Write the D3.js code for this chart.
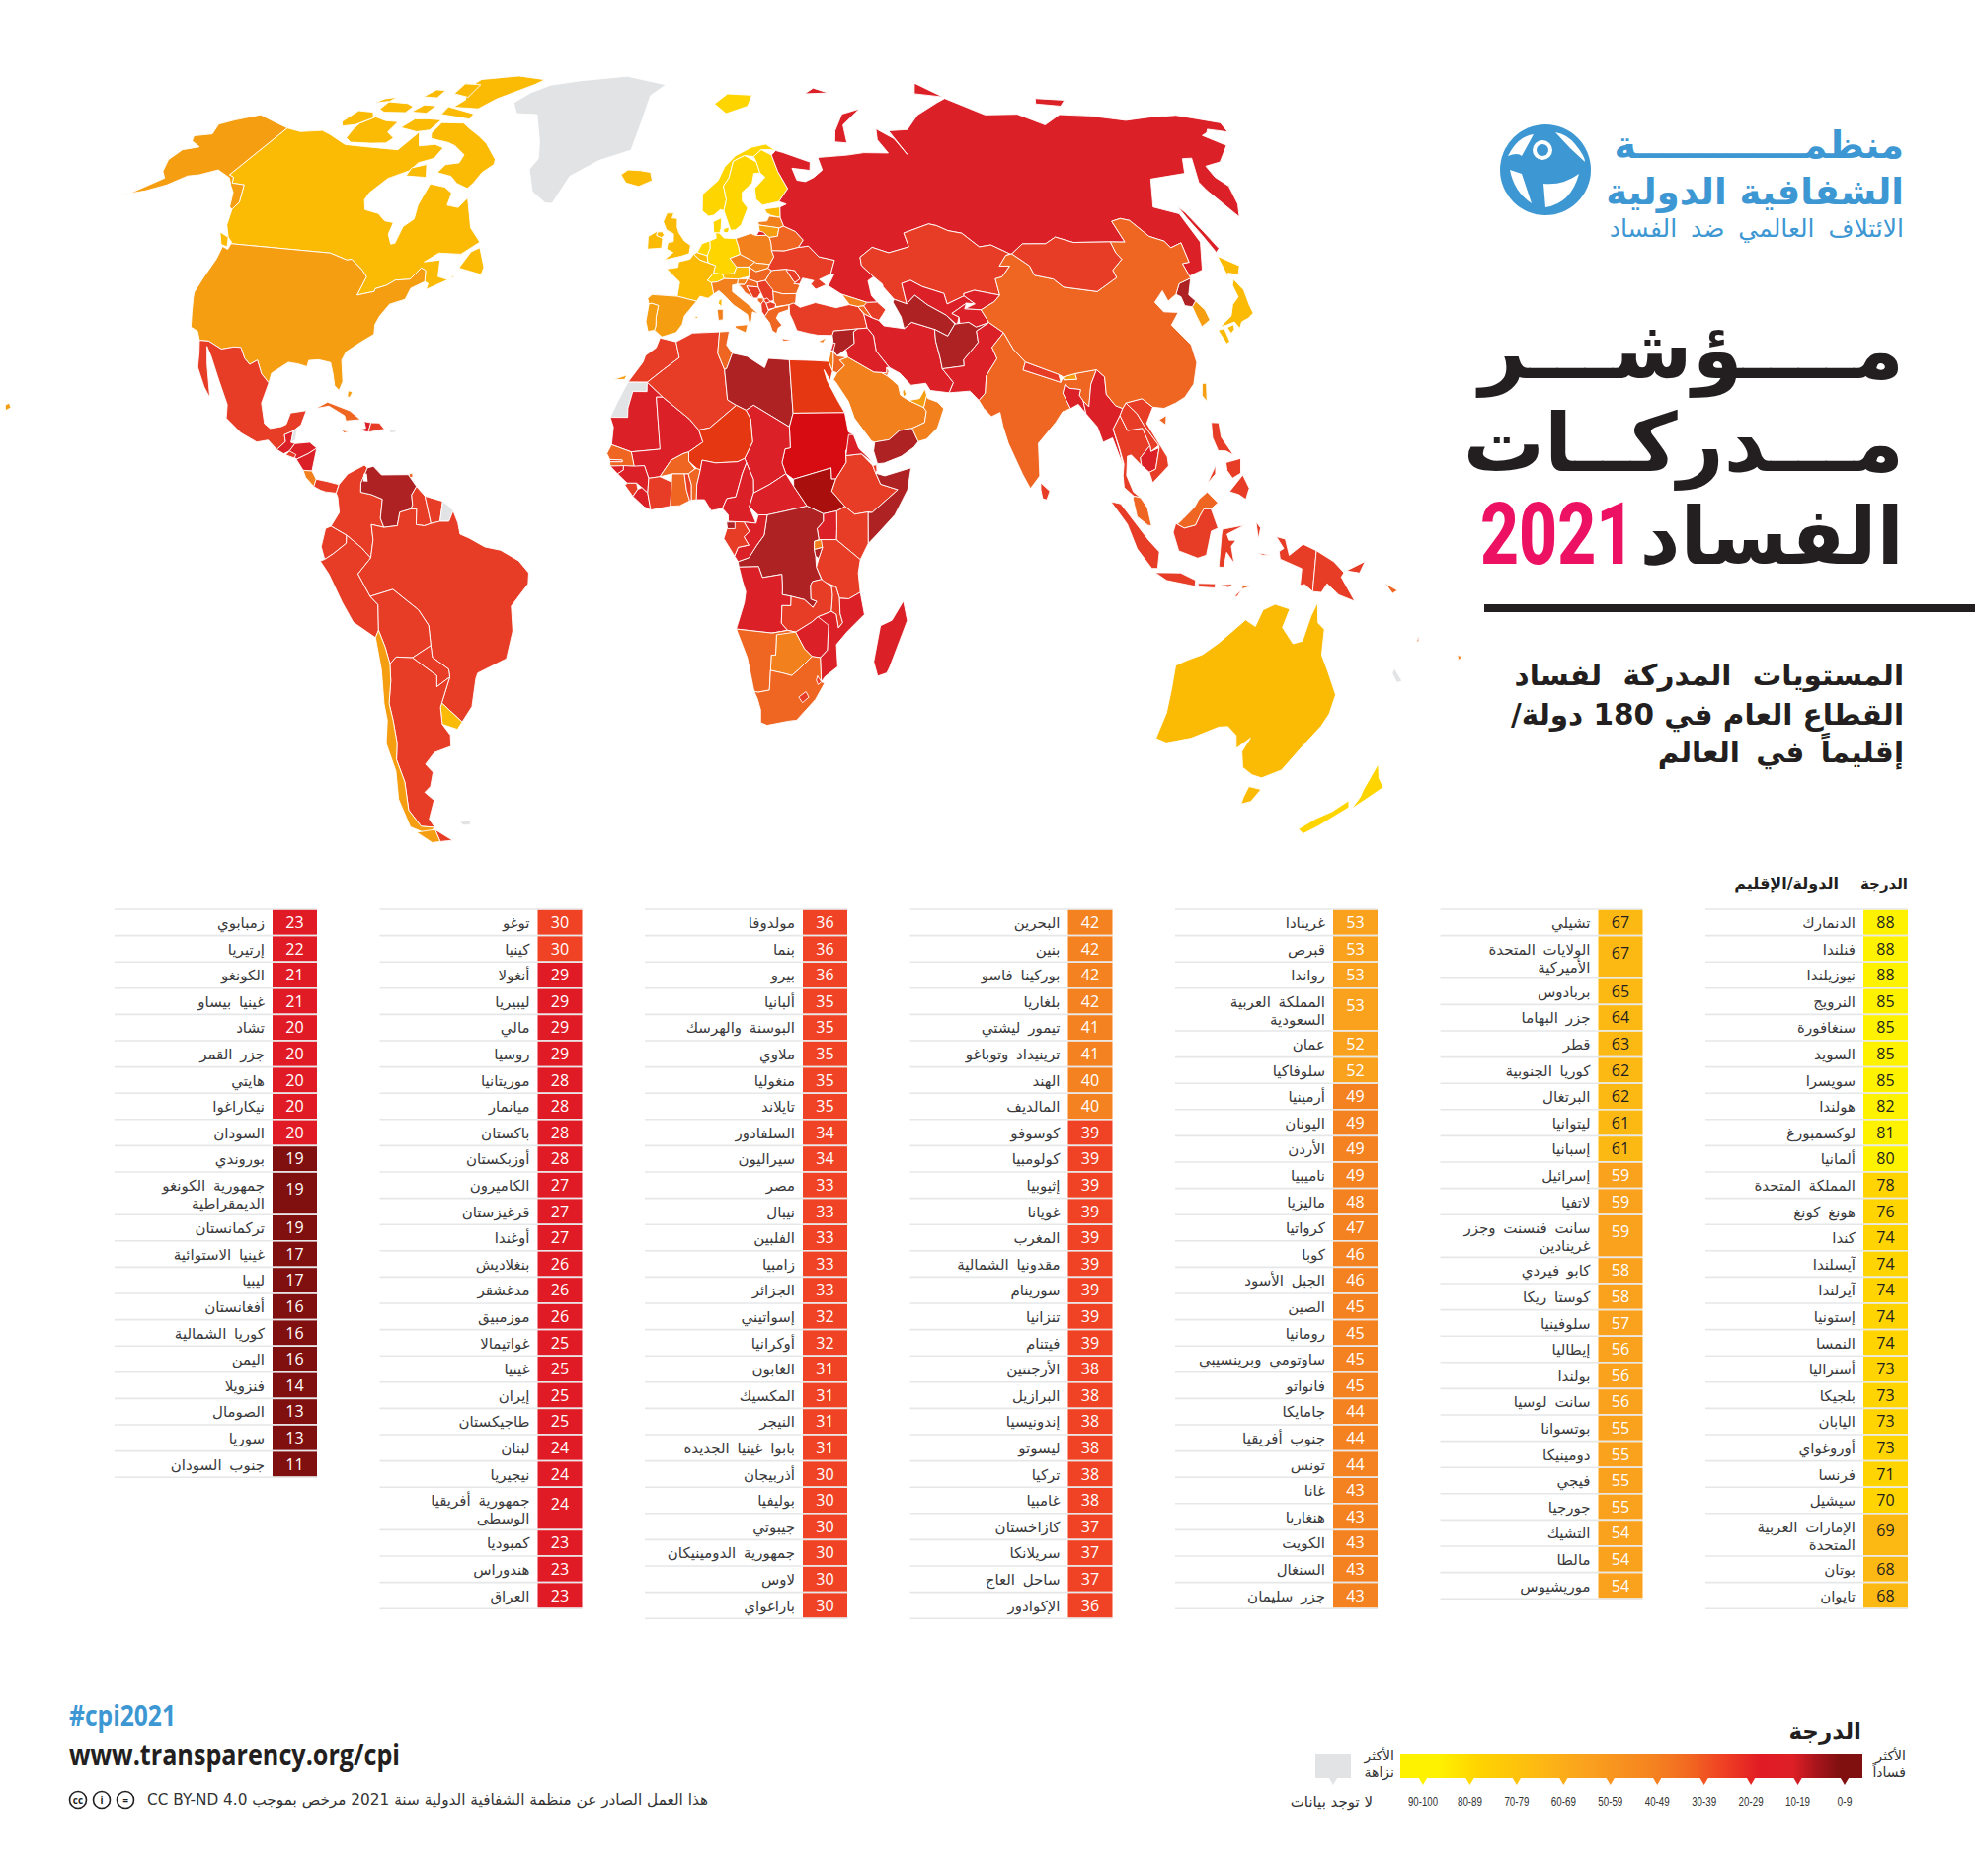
<!DOCTYPE html>
<html lang="ar">
<head>
<meta charset="utf-8">
<title>CPI 2021</title>
<style>
    html, body { margin: 0; padding: 0; background: #fff; }
    svg { display: block; }
    text { font-family: "DejaVu Sans", sans-serif; }
</style>
<script src="https://cdn.jsdelivr.net/npm/d3@7"></script>
</head>
<body>
<svg id="chart" width="2000" height="1900"></svg>
<script>

// table columns, right to left
var names1 = ['الدنمارك','فنلندا','نيوزيلندا','النرويج','سنغافورة','السويد','سويسرا','هولندا','لوكسمبورغ','ألمانيا','المملكة المتحدة','هونغ كونغ','كندا','آيسلندا','آيرلندا','إستونيا','النمسا','أستراليا','بلجيكا','اليابان','أوروغواي','فرنسا','سيشيل','الإمارات العربية|المتحدة','بوتان','تايوان'];
var scores1 = [88,88,88,85,85,85,85,82,81,80,78,76,74,74,74,74,74,73,73,73,73,71,70,69,68,68];
var names2 = ['تشيلي','الولايات المتحدة|الأميركية','بربادوس','جزر البهاما','قطر','كوريا الجنوبية','البرتغال','ليتوانيا','إسبانيا','إسرائيل','لاتفيا','سانت فنسنت وجزر|غرينادين','كابو فيردي','كوستا ريكا','سلوفينيا','إيطاليا','بولندا','سانت لوسيا','بوتسوانا','دومينيكا','فيجي','جورجيا','التشيك','مالطا','موريشيوس'];
var scores2 = [67,67,65,64,63,62,62,61,61,59,59,59,58,58,57,56,56,56,55,55,55,55,54,54,54];
var names3 = ['غرينادا','قبرص','رواندا','المملكة العربية|السعودية','عمان','سلوفاكيا','أرمينيا','اليونان','الأردن','ناميبيا','ماليزيا','كرواتيا','كوبا','الجبل الأسود','الصين','رومانيا','ساوتومي وبرينسيبي','فانواتو','جامايكا','جنوب أفريقيا','تونس','غانا','هنغاريا','الكويت','السنغال','جزر سليمان'];
var scores3 = [53,53,53,53,52,52,49,49,49,49,48,47,46,46,45,45,45,45,44,44,44,43,43,43,43,43];
var names4 = ['البحرين','بنين','بوركينا فاسو','بلغاريا','تيمور ليشتي','ترينيداد وتوباغو','الهند','المالديف','كوسوفو','كولومبيا','إثيوبيا','غويانا','المغرب','مقدونيا الشمالية','سورينام','تنزانيا','فيتنام','الأرجنتين','البرازيل','إندونيسيا','ليسوتو','تركيا','غامبيا','كازاخستان','سريلانكا','ساحل العاج','الإكوادور'];
var scores4 = [42,42,42,42,41,41,40,40,39,39,39,39,39,39,39,39,39,38,38,38,38,38,38,37,37,37,36];
var names5 = ['مولدوفا','بنما','بيرو','ألبانيا','البوسنة والهرسك','ملاوي','منغوليا','تايلاند','السلفادور','سيراليون','مصر','نيبال','الفلبين','زامبيا','الجزائر','إسواتيني','أوكرانيا','الغابون','المكسيك','النيجر','بابوا غينيا الجديدة','أذربيجان','بوليفيا','جيبوتي','جمهورية الدومينيكان','لاوس','باراغواي'];
var scores5 = [36,36,36,35,35,35,35,35,34,34,33,33,33,33,33,32,32,31,31,31,31,30,30,30,30,30,30];
var names6 = ['توغو','كينيا','أنغولا','ليبيريا','مالي','روسيا','موريتانيا','ميانمار','باكستان','أوزبكستان','الكاميرون','قرغيزستان','أوغندا','بنغلاديش','مدغشقر','موزمبيق','غواتيمالا','غينيا','إيران','طاجيكستان','لبنان','نيجيريا','جمهورية أفريقيا|الوسطى','كمبوديا','هندوراس','العراق'];
var scores6 = [30,30,29,29,29,29,28,28,28,28,27,27,27,26,26,26,25,25,25,25,24,24,24,23,23,23];
var names7 = ['زمبابوي','إرتيريا','الكونغو','غينيا بيساو','تشاد','جزر القمر','هايتي','نيكاراغوا','السودان','بوروندي','جمهورية الكونغو|الديمقراطية','تركمانستان','غينيا الاستوائية','ليبيا','أفغانستان','كوريا الشمالية','اليمن','فنزويلا','الصومال','سوريا','جنوب السودان'];
var scores7 = [23,22,21,21,20,20,20,20,20,19,19,19,17,17,16,16,16,14,13,13,11];

var legendLabels = ['90-100','80-89','70-79','60-69','50-59','40-49','30-39','20-29','10-19','0-9'];

// coloured on the map but not listed in the table
var mapOnlyNames = ['بيلاروس','صربيا'];
var mapOnlyScores = [41,38];

// country outlines as lon,lat
var outlines = [
['غرينلاند','-68,78 -64,76 -56,76 -50,71 -48,68 -49.5,66 -46,62 -41,60 -39,60 -36,65 -28,68 -18,70 -16,75 -14,80 -8,82 -26,83.5 -46,82.5 -58,81.5 -64,80'],
['كندا','-141,69.6 -135,69.3 -128,70 -124,69.5 -115,68 -108,68 -101,68 -96,68 -94,71.5 -90,69 -85,69.5 -81.5,69 -82,67 -86,66 -87,64.5 -92,62.8 -94.5,60 -94.5,58.7 -92.5,57 -88,56.5 -85,55.3 -82.3,55.1 -82,53 -80,51.3 -79,51.5 -79,54.5 -77,56 -78,58.5 -78,62.4 -73,62 -70,61 -69.5,58.8 -66,58.5 -64.5,60.3 -62,57.5 -60,55 -56,52.5 -60,50.2 -66,50.2 -69,48.5 -65,49 -64.5,47.5 -64,46 -61,45.5 -60,46.5 -60,46 -66,43.6 -66,44.7 -67,45 -67.8,47 -69.2,47.4 -71,45.3 -74.7,45 -76.5,44 -79,43.3 -79,42.8 -83,42 -82.5,45.3 -84.5,46.5 -88.5,48.2 -89.6,48 -95,49 -123,49 -123.2,49.3 -125,50 -128,52 -130.3,54.7 -130,56 -133.5,59 -137.5,59 -139,60 -141,60.3'],
['كندا','-61.5,66.6 -64,65 -65,63 -66,62 -70,62.8 -73,64 -78,64.5 -77,66 -73,66.5 -73,68 -78,69.5 -81,70 -88,70.5 -89.5,71.5 -89,73.5 -81,73.7 -77,72.7 -72,71.5 -68,70.3 -62,67.5'],
['كندا','-117,69.2 -114,68.5 -107,68.7 -102,69 -101,70 -105,71 -105,73 -110,73 -115,73.5 -118,72 -118,71'],
['كندا','-125,72 -123,71.2 -119,71.7 -115.5,73.3 -118,74.3 -124,74.3'],
['كندا','-90,76.5 -80,76.5 -76,78.5 -65,81.5 -62,82.5 -75,83 -90,82 -92,80 -88,78'],
['كندا','-92,75 -80,74.5 -80,75.5 -92,76.5'],
['كندا','-95,79 -88,78.5 -88,81 -95,81'],
['كندا','-117,75 -114,74.5 -106,74.8 -105.5,76 -109,76.5 -117,76.5'],
['كندا','-122,76 -117,76.6 -116,77.5 -120,77'],
['كندا','-104,75 -98,75 -97,76.5 -102,76.5'],
['كندا','-106,78 -100,78 -100,79.5 -104,79.5'],
['كندا','-102,72 -95,71.5 -91,72 -90,74 -95,74 -100,73.8'],
['كندا','-59.3,47.7 -53,46.7 -52.8,48 -55.5,51.5 -57.5,50.7'],
['كندا','-87,63.5 -80.5,63.5 -83,65.8 -87,65'],
['كندا','-128.3,50.7 -125,50 -123.4,48.4 -125.5,48.7'],
['الولايات المتحدة|الأميركية','-123,49 -95,49 -89.6,48 -88.5,48.2 -84.5,46.5 -82.5,45.3 -83,42 -79,42.8 -79,43.3 -76.5,44 -74.7,45 -71,45.3 -69.2,47.4 -67.8,47 -67,45 -70,43.7 -70.5,41.7 -74,40.7 -75.5,38.5 -76,37 -75.5,35.3 -78,33.9 -81,32 -81.5,30.5 -80,26.8 -80.4,25.2 -81.7,26 -82.7,28 -84,30 -87,30.4 -89.3,30.2 -89.3,29.1 -91.5,29.5 -94,29.7 -97.2,27.7 -97.2,26 -99.5,27.5 -101.5,29.8 -103,29 -104.7,30 -106.5,31.8 -108.2,31.8 -111,31.3 -114.8,32.5 -117.1,32.5 -118.5,34 -120.6,34.6 -122,36.8 -123.8,39.5 -124.3,40.4 -124.2,43 -124,46.2 -124.7,48.4 -122.8,48'],
['الولايات المتحدة|الأميركية','-141,69.6 -141,60.3 -139,60 -137.5,59 -133.5,59 -130,56 -130.3,54.7 -131.5,55 -134.5,57.5 -137,58.5 -140,59.8 -146,60.8 -150,59.5 -153,59 -156,57 -160,55.5 -168,53.5 -164,54.4 -159,58 -162,59 -165,61 -165,63 -161,64 -166,64.7 -168,65.6 -163,66.5 -166,68.3 -163,69.5 -157,71.2 -150,70.5'],
['الولايات المتحدة|الأميركية','-156,19 -155,19.5 -155.8,20.2 -156.5,19.8'],
['المكسيك','-117.1,32.5 -114.8,32.5 -111,31.3 -108.2,31.8 -106.5,31.8 -104.7,30 -103,29 -101.5,29.8 -99.5,27.5 -97.2,26 -97.7,22.5 -96,19 -94.5,18.2 -92,18.6 -91,19 -90.5,21 -87,21.5 -87.6,19 -88.3,18.5 -89.1,17.9 -91,17.2 -90.5,16 -92.2,14.6 -94.5,16.2 -97,15.8 -101,17.3 -105,19.7 -105.5,22 -109,26 -112.8,30 -114.7,31.6 -113,28.5 -109.9,23 -112,24.8 -115,28 -116,30.5'],
['غواتيمالا','-92.2,14.6 -90.5,16 -91,17.2 -89.1,17.9 -89.2,15.9 -88.3,15.7 -89.3,14.4 -90.5,13.9'],
['بليز','-89.1,17.9 -88.3,18.5 -88.3,16.3 -89.2,15.9'],
['هندوراس','-89.3,14.4 -88.3,15.7 -85,16 -83.2,15 -85,14 -87.5,13'],
['السلفادور','-90,13.7 -89.3,14.4 -87.7,13.8 -88,13.2'],
['نيكاراغوا','-87.5,13 -85,14 -83.2,15 -83.7,11 -85.7,11.1'],
['كوستا ريكا','-85.7,11.1 -83.7,11 -82.6,9.6 -83,8.3 -85,9.9'],
['بنما','-83,8.3 -82.6,9.6 -80,9.2 -77.4,8.7 -77.9,7.2 -80.3,7.4 -81.5,7.7'],
['كوبا','-85,21.9 -82.5,23.1 -77,21.7 -74.2,20.2 -77.5,19.9 -78,20.8 -82,22.4'],
['هايتي','-74.4,18.4 -72,18 -71.7,19.7 -73.3,19.9 -72.7,18.7'],
['جمهورية الدومينيكان','-71.7,19.7 -72,18 -68.4,18.6 -69.8,19.7'],
['جامايكا','-78.3,18.3 -76.3,18 -77.5,17.8'],
['جزر البهاما','-78.3,25.2 -77.2,25 -77.6,24 -78.2,24.2'],
['بورتوريكو','-67.2,18.5 -65.6,18.4 -66,18 -67.2,18'],
['ترينيداد وتوباغو','-61.9,10.1 -61,10.1 -61,10.8 -61.7,10.8'],
['كولومبيا','-77.4,8.7 -75.6,10.6 -72,12.2 -71.3,11.7 -72.5,9 -72.4,7.4 -70,7 -67.5,6.2 -67.8,2.8 -67,1.2 -69.8,1.7 -69.4,-1 -70,-4.2 -72,-2.4 -75.3,-0.2 -78.8,1.4 -77,3.8 -77.5,6.5 -77.9,7.2'],
['فنزويلا','-71.3,11.7 -72.5,9 -72.4,7.4 -70,7 -67.5,6.2 -67.8,2.8 -67,1.2 -64,1.5 -63.5,3.9 -61,4.5 -60.7,5.2 -61,7 -60,8.5 -62,10.6 -68,10.5 -70,12'],
['غويانا','-61,7 -60.7,5.2 -61,4.5 -59.8,4.5 -59.8,1.7 -58,1.5 -56.5,1.9 -58,6.8 -60,8.5'],
['سورينام','-58,6.8 -56.5,1.9 -54.5,2.3 -54,5.9'],
['غويانا الفرنسية','-54,5.9 -54.5,2.3 -52.5,2.3 -51.6,4.2 -52.5,5'],
['الإكوادور','-80,1 -78.8,1.4 -75.3,-0.2 -75.4,-1.6 -78.3,-3.4 -80.3,-4.4 -81,-2.2'],
['بيرو','-80.3,-4.4 -78.3,-3.4 -75.4,-1.6 -75.3,-0.2 -72,-2.4 -70,-4.2 -73,-7 -70.6,-11 -69,-12.5 -69.5,-17 -70.4,-18.3 -75,-15.5 -77,-12 -79.5,-7 -81.3,-4.7'],
['البرازيل','-51.6,4.2 -52.5,2.3 -54.5,2.3 -56.5,1.9 -58,1.5 -59.8,1.7 -59.8,4.5 -61,4.5 -63.5,3.9 -64,1.5 -67,1.2 -69.8,1.7 -69.4,-1 -70,-4.2 -73,-7 -70.6,-11 -65.4,-9.8 -60,-13.5 -58,-16.3 -58,-19.9 -58,-22 -54.6,-24.2 -54.6,-25.6 -57.5,-30.2 -53.5,-33.7 -50.5,-31 -48.6,-26 -48,-25 -41,-22.5 -39,-17.5 -39,-13 -35,-9 -34.8,-7 -37,-4.8 -41,-2.9 -44.5,-2.3 -48,-0.7 -50,0 -50.5,2'],
['بوليفيا','-69,-12.5 -70.6,-11 -65.4,-9.8 -60,-13.5 -58,-16.3 -58,-19.9 -62.6,-22 -66.3,-21.8 -68,-23 -68.5,-20 -69.5,-17'],
['باراغواي','-62.6,-22 -58,-19.9 -58,-22 -54.6,-24.2 -54.6,-25.6 -58,-27.3 -57.6,-25.3'],
['أوروغواي','-57.5,-30.2 -53.5,-33.7 -55,-35 -58.4,-34 -58,-31'],
['الأرجنتين','-68,-23 -66.3,-21.8 -62.6,-22 -57.6,-25.3 -58,-27.3 -54.6,-25.6 -57.5,-30.2 -58,-31 -58.4,-34 -57,-36 -57.5,-38 -62,-39 -65,-41 -63.7,-42.5 -65.5,-45 -67.5,-46 -65.8,-47.5 -69,-50.8 -68.4,-52.3 -72,-52 -73.5,-49 -71.7,-44 -71.9,-40 -70.5,-37 -70,-33 -70,-30 -68.5,-26'],
['الأرجنتين','-68.6,-52.7 -65,-54.8 -68.6,-54.9'],
['تشيلي','-70.4,-18.3 -69.5,-17 -68.5,-20 -68,-23 -68.5,-26 -70,-30 -70,-33 -70.5,-37 -71.9,-40 -71.7,-44 -73.5,-49 -72,-52 -68.4,-52.3 -71,-53.5 -75,-52 -75,-47 -73,-42 -73.2,-37 -71.4,-33 -71.2,-30 -70.2,-24'],
['تشيلي','-68.6,-52.7 -68.6,-54.9 -71,-55 -74,-53'],
['فوكلاند','-61,-51.5 -58,-51.4 -58.5,-52.2 -60.5,-52.2'],
['آيسلندا','-20,65.5 -18,64 -14,63.4 -10,64.5 -10.7,66 -14,66.3 -18,66.4'],
['آيرلندا','-10,52 -6.2,52.2 -6,53.8 -6.3,54.1 -7.7,54.5 -7.5,55.3 -10,54.3'],
['المملكة المتحدة','-5.5,50 -1,50.7 1.3,51.2 1.7,52.7 0,53.5 -1.5,55 -2,56 -2,57.6 -3.5,57.7 -3,58.6 -5,58.6 -6,57 -5,55.5 -3,54.8 -3,53.4 -4.5,53.2 -4.8,52 -3,51.4'],
['المملكة المتحدة','-6.3,54.1 -5.6,54.6 -6.2,55.2 -7.5,55.1 -7.7,54.5'],
['النرويج','5.2,59 7,58 8.5,58.2 10.5,59.2 11.5,59 12.5,61 12,63.5 14,65 16,68 20,69 23,68.8 26,70 29,70 30.8,69.8 28,71 23,70.5 17,69 13,67 10.5,64.5 5.5,62'],
['النرويج','12,78.5 16,76.7 25,78 28,80 18,80.3'],
['السويد','11.5,59 12.5,56.5 13,55.4 14.3,55.5 16,56.3 18.5,59.4 17.2,60.7 17.5,62.3 21,64 22,65.7 24,65.8 23.5,67.8 20,69 16,68 14,65 12,63.5 12.5,61'],
['فنلندا','24,65.8 25.3,65 21.5,63 21.3,61 23,59.9 28,60.5 31.5,62.8 29.7,66 29,69 26,70 23,68.8 23.5,67.8'],
['الدنمارك','8.2,55 8.2,57 10.7,57.7 10.3,55.7 9.8,54.9'],
['الدنمارك','11,55.7 12.6,56 12.3,55 11,55'],
['إستونيا','23.5,59.2 28,59.5 27.5,57.6 25,58 23.7,58.5'],
['لاتفيا','21,56.9 23.5,57 24.4,57.9 27.5,57.6 28,56 26.6,55.7 21,56.3'],
['ليتوانيا','21,56.3 26.6,55.7 25.8,54.2 23.5,54 22.8,54.4 21,55.2'],
['روسيا','20,54.4 22.8,54.4 22,55 20.9,55.2'],
['بيلاروس','23.5,54 25.8,54.2 26.6,55.7 28,56 31,55 32.7,53.4 31,52.1 27,51.5 23.6,51.6 23.7,53'],
['بولندا','14.2,53.9 18.5,54.8 19.8,54.4 22.8,54.4 23.5,54 23.7,53 23.6,51.6 24,50.5 22.6,49.1 19,49.4 16,50.6 15,51 14.7,52.5'],
['ألمانيا','7,53.5 8.8,54 8.7,55 9.8,54.9 11,54 14.2,53.9 14.7,52.5 15,51 12.2,50.3 13.8,48.7 13,47.5 10,47.4 7.6,47.6 8.2,49 6.3,49.5 6.1,50.8 7,52.2'],
['هولندا','3.4,51.4 6.1,50.8 7,52.2 7,53.5 4.8,53 4,52'],
['بلجيكا','2.5,51.1 3.4,51.4 6.1,50.8 6.3,49.5 4.2,50'],
['فرنسا','2.5,51.1 4.2,50 6.3,49.5 8.2,49 7.6,47.6 6,46.3 7,45.9 7.5,43.8 6,43 4,43.4 3.1,42.5 -1.8,43.4 -1.2,46 -4.7,48.4 -1.7,48.7 -1.5,49.7 1.5,50.2'],
['فرنسا','8.6,42 9.4,41.5 9.5,43 8.7,42.6'],
['سويسرا','6,46.3 7.6,47.6 10,47.4 10.4,46.6 8.5,46 7,45.9'],
['النمسا','10,47.4 13,47.5 13.8,48.7 17,48.7 17,47 14,46.5 10.4,46.6'],
['إيطاليا','7,45.9 8.5,46 10.4,46.6 14,46.5 13.7,45.6 12.4,45.4 12.3,44.2 16,41.9 18.4,40.1 17,40.5 16.6,39 16,38 15.7,40 12.3,41.8 10.2,43.5 8.8,44.4 7.5,43.8'],
['إيطاليا','12.5,38 15.6,38.2 15,36.7 12.5,37.6'],
['إيطاليا','8.2,41 9.7,41 9.6,39.1 8.4,39'],
['إسبانيا','-9.3,43 -8.2,43.7 -1.8,43.4 3.1,42.5 0,39.8 -0.5,38.3 -2,36.8 -5.5,36 -7.3,37.2 -7,38 -7,39.6 -6.5,41.7 -8.2,42.1 -8.9,42'],
['إسبانيا','2.4,39.6 3.3,39.8 3.2,39.3'],
['إسبانيا','-16.8,28.1 -13.5,29 -14,28.2'],
['البرتغال','-8.9,42 -8.2,42.1 -6.5,41.7 -7,39.6 -7,38 -7.3,37.2 -8.9,37 -9.5,38.8'],
['التشيك','12.2,50.3 15,51 16,50.6 18.8,49.6 17,48.7 13.8,48.7'],
['سلوفاكيا','17,48.7 18.8,49.6 19,49.4 22.6,49.1 22,48.4 18.8,47.8'],
['هنغاريا','17,47 17,48.7 18.8,47.8 22,48.4 22.9,48 21,46.2 18.9,45.9 16.5,46.5'],
['سلوفينيا','13.7,45.6 14,46.5 16.5,46.5 15.5,45.5'],
['كرواتيا','13.7,45.5 15.5,45.5 16.5,46.5 18.9,45.9 19,45 16,45.2 17.5,43 18.5,42.5 15.5,44 14.5,45.1'],
['البوسنة والهرسك','16,45.2 19,45 19.5,44 18.5,43 17.5,43'],
['مولدوفا','26.6,48.2 29,47.9 30,46.4 28.2,45.5 28.2,46'],
['رومانيا','22.9,48 26.6,48.2 28.2,46 29.7,45.2 28.5,43.7 25,43.7 22.6,44.2 21,46.2'],
['بلغاريا','22.6,44.2 25,43.7 28.5,43.7 28,42 26.3,41.7 23,41.4 22.5,42.5'],
['اليونان','19.9,39.7 21,40.7 22.7,41.2 26.3,41.7 26,40.8 23.5,40.2 22.8,39.3 24,38 23,37.5 22.5,36.5 21.5,37 21,38.5'],
['اليونان','23.6,35.6 26.3,35.2 24,35.1'],
['صربيا','18.9,45.9 21,46.2 22.6,44.5 22.5,42.5 21,42.3 20,43 19.5,44 19,45'],
['الجبل الأسود','18.5,43 20,43 20,42.5 19.3,41.9 18.5,42.5'],
['كوسوفو','20,42.7 21,43 21.7,42.3 20.6,42'],
['ألبانيا','19.3,41.9 20,42.5 20.6,42 21,40.7 20,39.7 19.3,40.5'],
['مقدونيا الشمالية','20.6,42 21.7,42.3 23,41.9 22.7,41.2 21,40.9'],
['أوكرانيا','22.6,49.1 24,50.5 23.6,51.6 27,51.5 31,52.1 33.8,52.3 36,50.3 40,49.6 38.2,47.1 35,46.2 36.5,45.2 33.6,44.4 32.6,45.4 33.5,46 30.7,46.5 29.7,45.4 28.2,45.5 30,46.4 29,47.9 26.6,48.2 22.9,48 22,48.4'],
['روسيا','27.5,57.6 28,59.5 30,60 28,60.5 31.5,62.8 29.7,66 29,69 30.8,69.8 33,69.4 41,67.5 40,66 34.5,66.5 35,64.3 37.5,64 40.5,64.7 44,66 44,68.3 54,68.5 60,68.8 68,68.5 67,71 69,73 73,71 74,68 73,72.5 80,72.5 88,75 100,77 105,77.7 113,74 125,73.5 130,71 140,72.5 150,71.5 160,69.7 170,69.5 180,68.9 185,67.5 190,66 187,64.3 182,65.5 180,65 177,64.7 179.5,62.3 170,60 164,59.8 162.5,57.8 163.3,56 160,53 156.7,51 155.6,56 156,57.5 163,61.5 160,61.7 155,59.3 143,59.3 135.5,54.7 141,53 140,48 135,43.5 131,42.8 130.6,42.4 131,44.9 133,45 134.7,48.3 131,47.7 130.6,48.9 127.5,50 125.6,53 123.5,53.5 120.5,53.2 119.9,49.5 116,49.8 106,50.3 102,51.5 98.3,50.5 92,50.8 87.8,49.2 87.3,49.2 83.4,51 80,50.8 77,53.4 73.5,54 71,55 69,55.4 61,54 61,51.5 55,50.6 51,51.7 47,50 46.8,48.5 49.2,46.4 47.5,45.7 47.5,43 48.6,41.8 46,41.8 40,43.4 37,45 39,47 38.2,47.1 40,49.6 36,50.3 33.8,52.3 31,52.1 32.7,53.4 31,55 28,56'],
['روسيا','142,46 143.5,46.6 143.2,49.5 143,53 142.5,54.3 142,52 142,49'],
['روسيا','52,71 56,70.7 58,74 68,76.8 60,76 54,73'],
['روسيا','95,79 105,78 100,81'],
['روسيا','137,75 145,74 150,75 140,76'],
['روسيا','50,80 60,80 55,81'],
['قبرص','32.3,34.9 34.5,35.6 33.5,34.7'],
['تركيا','26.2,40 26.3,41.7 27.5,42 29,41.2 33,42 38,41 41.5,41.5 43.5,41.1 44.6,39.7 44.8,37.2 42.4,37.1 36.5,36.8 36,36 32.5,36.1 30.5,36.4 27.5,37 26.8,38.8'],
['جورجيا','40,43.4 46,41.8 45,41.2 43.5,41.1 41.5,41.5'],
['أرمينيا','43.5,41.1 45,41.2 46.5,39 44.8,39.7'],
['أذربيجان','45,41.2 46,41.8 48.6,41.8 50.3,40.4 49,39.3 48,38.5 46.5,39'],
['إيران','44.6,39.7 44.8,39.7 46.5,39 48,38.5 49,37.5 53.8,36.9 56,38 61.2,36.6 60.8,34.5 61,31.5 61,29.5 63,27 61.6,25.2 57.3,25.7 56.5,27 53,26.7 50.8,28.9 48.5,30 46,33 46,35.8 44.8,37.2'],
['العراق','44.8,37.2 46,35.8 46,33 48.5,30 47.9,30 47.7,29 46.5,29.1 44.7,29.2 39,32 38.8,33.4 41,34.5 41.3,36.6 42.4,37.1'],
['سوريا','36,36 36.5,36.8 42.4,37.1 41.3,36.6 41,34.5 38.8,33.4 36.5,32.3 35.8,33.3 36,34.6'],
['لبنان','35.1,33.1 35.8,33.3 36.5,34.6 35.9,34.6'],
['إسرائيل','34.3,31.3 35.1,33.1 35.7,33 35.5,31.5 35,29.5'],
['الأردن','35,29.5 35.5,31.5 35.7,33 36.5,32.3 39,32 37,31.5 38,30.5 36,29.2'],
['المملكة العربية|السعودية','35,28 36,29.2 38,30.5 37,31.5 39,32 44.7,29.2 46.5,29.1 47.7,28.5 48.8,27.7 50,26.7 50.2,25 51,24.5 52,24 55.2,22.7 55.7,22 55,20 52,19 49,18.6 46.5,17 43.2,16.6 42.5,16.8 39,21 38,24 35.5,27.5'],
['اليمن','43.2,16.6 46.5,17 49,18.6 52,19 53.1,16.6 52,15.6 49,14 45,12.8 43.5,12.7 42.8,15'],
['عمان','52,19 55,20 55.7,22 55.2,22.7 56.3,24.9 56.4,24.3 58.6,23.6 59.8,22.4 57.8,19 55,17 53.1,16.6'],
['الإمارات العربية|المتحدة','52,24 55.2,22.7 56.3,24.9 56.1,26 54.5,24.3'],
['قطر','50.8,24.7 51.6,25 51.3,26.1 50.8,25.6'],
['الكويت','46.5,29.1 47.7,28.5 48.3,29.3 47.9,30 47.7,29'],
['كازاخستان','46.8,48.5 49.2,46.4 51,45 51,44.5 52.5,42.8 53,42.2 55.9,41.3 56,45 58.5,45.5 61,44.3 66,42.9 66,41 70.9,42.3 71,42.7 74,43.2 80,42.1 80.5,45 82.5,45.3 85.7,47.1 83,47.2 86,49 87.3,49.2 83.4,51 80,50.8 77,53.4 73.5,54 71,55 69,55.4 61,54 61,51.5 55,50.6 51,51.7 47,50'],
['أوزبكستان','55.9,41.3 58.5,42.8 61,41 65,39 67,37.2 68,38.6 66.5,39.3 70.9,41 73,40.8 70.9,42.3 66,41 66,42.9 61,44.3 58.5,45.5 56,45'],
['تركمانستان','52.5,41.7 53,42.2 55.9,41.3 58.5,42.8 61,41 65,39 66.5,37.4 64,35.3 61.2,36.6 56,38 53.8,36.9 53.7,39'],
['قرغيزستان','70.9,42.3 73,40.8 70,40 74,39.7 78,41 80,42.1 74,43.2 71,42.7'],
['طاجيكستان','67.7,37.2 70,37.6 71.5,36.7 75,37.4 74,39.7 70,40 70.9,41 66.5,39.3 68,38.6'],
['أفغانستان','61.2,36.6 64,35.3 66.5,37.4 70,37.6 71.5,36.7 75,37.4 71.3,36 71,34 69.5,33 66.5,31 66.3,29.9 61,29.5 61,31.5 60.8,34.5'],
['باكستان','61.6,25.2 63,27 61,29.5 66.3,29.9 66.5,31 69.5,33 71,34 71.3,36 75,37.4 77.8,35.5 74,33 74.5,31 71,28 70,25 68.2,23.7 66.5,25.4'],
['الهند','68.2,23.7 70,25 71,28 74.5,31 74,33 77.8,35.5 79,32.5 81,30.2 80,28.8 88.1,26.4 88.8,27.1 89,26.8 92,26.8 92,27.8 97.3,28.3 95,25.8 93.3,22 92.3,23 91.7,24 92.3,25 89.8,25.3 89,26 88,24.5 89,21.8 87,21.3 85,19.5 80.3,15.9 80,13 79.8,10.2 77.5,8 76,10.5 73.5,16 72.8,19 72.6,21.5 70.5,20.8 69,22.3'],
['نيبال','80,28.8 81,30.2 88.1,27.8 88.1,26.4'],
['بوتان','89,27.3 92,27.8 92,26.8 89,26.8'],
['بنغلاديش','88,24.5 89,26 89.8,25.3 92.3,25 91.7,24 92.3,23 92.3,20.8 91,22.5 89,21.8'],
['سريلانكا','79.9,9 81.8,7.5 81,6 80.1,6.2 79.8,7.8'],
['ميانمار','92.3,20.8 92.3,23 93.3,22 95,25.8 97.3,28.3 98.7,27 98,24 99.5,22 101,21.5 100,20.3 97.8,18 98.5,14 99,10 98.5,12.5 97.3,16.5 95,15.8 94.3,18.5'],
['تايلاند','97.8,18 100,20.3 101,17.7 104.5,18 105.5,15 102.9,13 102.9,11.7 100.9,13.5 100,13.3 99.3,10 100.5,7.2 102,6.2 100.5,6.5 98.5,8 98.5,10 99,12 98.5,14.7'],
['لاوس','100,20.3 101,21.5 102,22.4 104,20.5 105,18.5 107.5,15 105.5,14 105.5,15 104.5,18 101,17.7'],
['كمبوديا','102.9,13 105.5,15 105.5,14 107.5,14.6 106,11 104.5,10.5 102.9,11.7'],
['فيتنام','102,22.4 106,23 108,21.5 105.7,18.8 109,13 109,11.5 105,8.7 104.5,10.5 106,11 107.5,14.6 107.5,15 105,18.5 104,20.5'],
['ماليزيا','100.5,6.5 102,6.2 103.4,4.5 104.2,1.4 103.4,1.5 101,3 100.3,6'],
['ماليزيا','109.6,1.8 111.5,1 114,1.5 115,3 116,4.2 117.6,4.2 119.2,5.2 117,7 115,5.8 113.9,4.5 111.3,2.6 110,1.7'],
['إندونيسيا','109,0.3 109.6,1.8 111.5,1 114,1.5 115,3 116,4.2 117.6,4.2 119,1 117.5,0.5 116.5,-3.5 114.6,-4 110.3,-2.8'],
['إندونيسيا','95.3,5.6 97.5,5.2 100.5,2 103.5,-1 106,-3 105.8,-5.8 104.5,-5.8 101,-2.5 98.8,1.7'],
['إندونيسيا','105.3,-6.5 108.5,-6.5 111,-6.5 114.5,-7.7 114.5,-8.7 108,-7.8'],
['إندونيسيا','120,0.8 125,1.5 121,0 121.5,-1 123,-1 122,-2 122.8,-4.8 121,-3 120.5,-5.5 119.4,-5.4 119.5,-3.4 119.8,0'],
['إندونيسيا','132,-0.4 134,-0.8 135,-3.4 138,-1.6 141,-2.6 141,-9.1 139,-8 138,-8.2 138,-5.5 133,-4 132.7,-2.8 133.7,-2.3'],
['إندونيسيا','115,-8.2 119,-8.2 119,-8.9 115.5,-8.8'],
['إندونيسيا','119.9,-8.4 123,-8.2 122,-8.8'],
['إندونيسيا','123.6,-10.3 125,-9 124.3,-10.2'],
['إندونيسيا','127.5,2 128.5,1 128,-0.8'],
['إندونيسيا','128,-3 130.8,-3.4 129,-3.4'],
['تيمور ليشتي','125,-9 127.3,-8.4 125.2,-8.3'],
['بابوا غينيا الجديدة','141,-2.6 145,-4.3 147.5,-6 147,-6.7 150.8,-10.4 147,-9.5 144,-7.8 143,-9.2 141,-9.1'],
['بابوا غينيا الجديدة','148,-5.7 152,-4.2 151,-6'],
['جزر سليمان','157,-7.5 160,-8.5 159,-9'],
['فانواتو','167,-15 167.5,-16 167,-16'],
['فيجي','177.3,-17.5 178.6,-17.6 178,-18.2'],
['كاليدونيا الجديدة','164,-20.2 167,-22 166,-22.3 164,-21'],
['الفلبين','120.5,18.5 122.2,18.4 122,16 124,13 122.5,13.7 120.7,13.8 120,16'],
['الفلبين','122,7 125.4,9.7 126.5,7.5 125.5,5.7 124,6.5'],
['الفلبين','122,11.8 125.5,12.4 125,10 123,9.2 122,10.5'],
['الفلبين','117.2,8.4 119.6,11.4 119.3,10'],
['تايوان','121,25 122,25 120.8,22 120.1,23'],
['اليابان','130.9,34 135,35.6 137,37.4 139.5,38.5 140,40.5 141.3,41.4 142,39.5 141,37 140.8,35.7 139,35 136.8,34.5 135.5,33.5 135,34.6 132.5,34.2'],
['اليابان','130,33.5 131.7,33.7 131.5,31.5 130.5,31.2'],
['اليابان','132.5,33.8 134.5,34.2 134,33.4 132.8,32.8'],
['اليابان','140.3,41.8 141.5,45.4 145.3,43.4 143.3,42 141,42.5'],
['كوريا الجنوبية','126.7,37.7 128.3,38.6 129.4,37 129.3,35.3 126.5,34.3 126.5,36'],
['كوريا الشمالية','124.4,40 126.8,41.7 130.6,42.4 127.5,39.7 128.3,38.6 126.7,37.7 125,38 125.3,39.5'],
['الصين','74,39.7 78,41 80,42.1 80.5,45 82.5,45.3 85.7,47.1 83,47.2 86,49 87.8,49.2 90.9,46.9 91,45.2 95.4,44.3 97,42.8 105,41.6 111.8,43.7 111.9,45 116,46.7 115.5,47.9 116,49.8 119.9,49.5 120.5,53.2 123.5,53.5 125.6,53 127.5,50 130.6,48.9 131,47.7 134.7,48.3 133,45 131,44.9 130.6,42.4 126.8,41.7 124.4,40 121.5,39 121.5,40.8 118,39 119,37.3 122.5,37 119.3,35 121.9,31.5 121.5,28.5 119,25 116,22.9 113.5,22 110.5,21.2 108,21.5 106,23 102,22.4 101,21.5 99.5,22 98,24 98.7,27 97.3,28.3 92,27.8 89,27.3 88.1,27.8 81,30.2 79,32.5 77.8,35.5 75,37.4'],
['الصين','108.7,19.3 110.6,20 110,18.4'],
['منغوليا','87.8,49.2 90.9,46.9 91,45.2 95.4,44.3 97,42.8 105,41.6 111.8,43.7 111.9,45 116,46.7 115.5,47.9 116,49.8 106,50.3 102,51.5 98.3,50.5 92,50.8'],
['المغرب','-5.9,35.8 -2,35.1 -1.2,32.2 -5,30 -8.7,27.7 -13.2,27.7 -9.8,31.4 -9.3,32.6 -6.8,34'],
['الصحراء الغربية','-13.2,27.7 -8.7,27.7 -8.7,26 -12,26 -13,23 -13,21.3 -17,21.3 -15.5,24'],
['موريتانيا','-17,21.3 -13,21.3 -13,23 -12,26 -8.7,26 -8.7,27.7 -5,25 -6.5,25 -5.5,16 -5.5,15.5 -12,15 -16.5,16.3 -16.2,19.5'],
['مالي','-12,15 -5.5,15.5 -6.5,25 -5,25 1.2,21 3.3,19 4.2,16.8 1,15 -0.2,14.7 -3,13.5 -5.5,10.5 -8,10.2 -9,12.5 -11.3,12.3'],
['الجزائر','-2,35.1 2,36.7 8.6,36.9 8,33 9.5,30 10,24.5 12,23.5 5.8,19.4 3.3,19 1.2,21 -5,25 -8.7,27.7 -5,30 -1.2,32.2'],
['تونس','8.6,36.9 11,37 10.2,34.5 11.5,33 10,30.2 9.5,30 8,33'],
['ليبيا','11.5,33 15,32.4 19,30.3 20,32 25,31.7 25,22 24,19.5 16,23.5 14.2,22.6 12,23.5 10,24.5 9.5,30 10,30.2'],
['مصر','25,31.7 31,31.5 34.3,31.3 35,29.5 34.2,27.8 33,29.8 33.5,27.8 35.7,23.9 36.9,22 25,22'],
['السودان','25,22 36.9,22 37.4,18.5 38.5,18 36.5,15 36.5,13 34,10 33,10 33,12 24.5,10 22.8,11 22,13 22.8,15.5 24,15.7 24,19.5'],
['تشاد','14.2,22.6 16,23.5 24,19.5 24,15.7 22.8,15.5 22,13 22.8,11 19,9 15.5,7.5 15.5,10 14,13 13.6,13.8 15.5,16.8 15.2,21'],
['النيجر','5.8,19.4 12,23.5 14.2,22.6 15.2,21 15.5,16.8 13.6,13.8 12,13.2 7,13 4,13.5 3.6,11.7 2.8,12 1,13.3 1,15 4.2,16.8 3.3,19'],
['السنغال','-16.5,16.3 -12,15 -11.3,12.4 -16.7,12.4 -16.8,13.2 -14,13.2 -14,13.5 -16.8,13.6 -17.5,14.7'],
['غامبيا','-16.8,13.6 -14,13.5 -14,13.2 -16.8,13.2'],
['غينيا بيساو','-16.7,12.4 -13.7,12.5 -13.7,11.7 -15,11'],
['غينيا','-15,11 -13.7,11.7 -13.7,12.5 -11.3,12.4 -9,12.5 -8,10.2 -8.2,7.5 -9.5,8.5 -10.7,9.3 -12.8,9.3'],
['سيراليون','-13.3,8.9 -12.8,9.3 -10.7,9.3 -10.4,8.2 -11.5,6.9'],
['ليبيريا','-11.5,6.9 -10.4,8.2 -9.5,8.5 -8.2,7.5 -7.5,4.4 -9,5'],
['ساحل العاج','-8.2,7.5 -8,10.2 -5.5,10.5 -2.8,9.5 -3.1,5.1 -7.5,4.4'],
['بوركينا فاسو','-5.5,10.5 -3,13.5 -0.2,14.7 1,15 1,13.3 2.4,11.9 0.9,11 -2.8,11'],
['غانا','-3.1,5.1 -2.8,11 0,11 0.5,8 1.2,6.1 -1,5.2'],
['توغو','0,11 0.9,11 1.6,9 1.6,6.2 1.2,6.1 0.5,8'],
['بنين','0.9,11 2.4,11.9 2.8,12 3.6,11.7 2.8,9 2.7,6.3 1.6,6.2 1.6,9'],
['نيجيريا','2.7,6.3 2.8,9 3.6,11.7 4,13.5 7,13 12,13.2 13.6,13.8 14,13 13,11 11.5,6.8 9.5,6.5 8.5,4.7 6,4.3 4.5,6.3'],
['الكاميرون','8.5,4.7 9.5,6.5 11.5,6.8 13,11 14,13 15.5,10 15.5,7.5 14.5,5 16,2 13.3,2.2 9.8,2.3 9.8,3.5'],
['جمهورية أفريقيا|الوسطى','14.5,5 15.5,7.5 19,9 22.8,11 24.5,8.7 27.4,5.1 22.5,4.2 18.5,3.5 16.5,3.5'],
['جنوب السودان','24.5,10 24.5,8.7 27.4,5.1 31,3.7 34,4.2 35.9,5 33,7.8 34,10 33,10 33,12'],
['إثيوبيا','33,7.8 35.9,5 38,3.6 41,4 41.9,3.9 47.8,8 44,9 43,11 42.4,12.4 40,14.5 36.5,14.2 36.5,13 34,10'],
['إرتيريا','36.5,14.2 40,14.5 43,12.6 39.5,15.5 38.5,18 37.4,18'],
['جيبوتي','42.4,12.4 43,11 43.3,11.5 43.3,12.5'],
['الصومال','41,-1.7 41,3.9 41.9,3.9 47.8,8 44,9 43,11 45,10.5 51,11.9 50,8 47,3.5 43,0'],
['كينيا','34,4.2 35.9,5 38,3.6 41,4 41,-1.7 39.3,-4.6 33.9,-1 34,1'],
['أوغندا','31,3.7 34,4.2 34,1 33.9,-1 30,-1 29.6,1 31,2.3'],
['تنزانيا','30,-1 33.9,-1 39.3,-4.6 38.9,-7 39.5,-10.5 37,-11.7 34.9,-11.6 34,-9.5 31,-8.6 29.5,-6 30,-4.4 30.8,-2.4'],
['جمهورية الكونغو|الديمقراطية','12.2,-6 12,-5 13,-4.7 14.4,-4.3 16.2,-2 17.8,-0.2 18.5,3.5 22.5,4.2 27.4,5.1 31,3.7 31,2.3 29.6,1 30,-1 29,-1.3 29,-2.8 29.3,-4 29.5,-6 30.7,-8.2 28.7,-8.6 28.3,-9.3 28.5,-11.8 29.8,-12.2 29,-13.3 27,-11.9 24,-11.3 22,-11 22,-9.5 21.8,-7.3 17.5,-7.9 16.6,-5.9'],
['رواندا','29,-1.3 30.5,-1 30.8,-2.4 29,-2.8'],
['بوروندي','29,-2.8 30.8,-2.4 30,-4.4 29.3,-4'],
['الكونغو','11.2,-4 12,-5 13,-4.7 14.4,-4.3 16.2,-2 17.8,-0.2 18.5,3.5 16.5,3.5 16,2 13.3,2.2 14.5,0.5 13.3,-0.5 14.4,-2 12,-2.4'],
['الغابون','9.8,2.3 13.3,2.2 14.5,0.5 13.3,-0.5 14.4,-2 12,-2.4 11.2,-4 8.8,-0.8 9.5,1'],
['غينيا الاستوائية','9.4,2.2 11.3,2.2 11.3,1 9.6,1'],
['أنغولا','12.2,-6 16.6,-5.9 17.5,-7.9 21.8,-7.3 22,-9.5 22,-11 24,-11.3 24,-13 22,-13 22,-16.2 23.5,-17.5 20,-18 11.8,-17.3 13.5,-12.5 13.8,-10.5 13,-8.5'],
['زامبيا','22,-13 24,-13 24,-11.3 27,-11.9 29,-13.3 29.8,-12.2 28.5,-11.8 28.3,-9.3 28.7,-8.6 30.7,-8.2 33,-9.5 33.3,-11 33.2,-14 30.2,-15 28.8,-16 25.3,-17.8 23.5,-17.5 22,-16.2'],
['ملاوي','33,-9.5 34,-9.5 34.9,-11.6 35.2,-14.4 35.9,-16 35,-17 34.3,-14.5 33.2,-14 33.3,-11'],
['موزمبيق','34.9,-11.6 37,-11.7 39.5,-10.5 40.7,-14.5 37,-17.7 34.8,-20 35.5,-24 32.8,-25.8 32,-26.8 31.3,-22.4 32.8,-21 32.7,-18.5 30.2,-15 33.2,-14 34.3,-14.5 35,-17 35.9,-16 35.2,-14.4'],
['زمبابوي','25.3,-17.8 28.8,-16 30.2,-15 32.7,-16.5 32.8,-21 31.3,-22.4 29.4,-22.2 27.5,-20.8'],
['بوتسوانا','20,-18 23.5,-17.5 25.3,-17.8 27.5,-20.8 29.4,-22.2 26.5,-24.6 25,-25.7 23,-25.3 20,-24.8 20,-22 21,-22 21,-18.3'],
['ناميبيا','11.8,-17.3 20,-18 23.5,-17.5 25.3,-17.8 21,-18.3 21,-22 20,-22 20,-24.8 20,-28.4 17.3,-28.8 16.4,-28.6 14.5,-22.5'],
['جنوب أفريقيا','16.4,-28.6 17.3,-28.8 20,-28.4 20,-24.8 23,-25.3 25,-25.7 26.5,-24.6 29.4,-22.2 31.3,-22.4 32,-26.8 32.8,-27 31,-30 27,-33.8 25,-34 20,-34.8 18.4,-34.3 18.2,-32 17.3,-30'],
['ليسوتو','27,-29.6 28.6,-28.6 29.4,-29.6 28,-30.6'],
['إسواتيني','31,-25.7 32,-26.8 31.3,-27.3 30.8,-26.5'],
['مدغشقر','49.3,-12 50.5,-15.5 47.5,-24 47,-25 45,-25.6 43.7,-23 44.5,-16.5 47,-15.5'],
['أستراليا','113.5,-22 114.2,-26 115,-30 115,-34.4 118,-35 123.5,-33.9 128.9,-31.7 131,-31.5 134,-32.8 135.7,-34.9 137.8,-33 137.5,-35.3 140,-37.8 143.5,-38.8 146.4,-39.1 150,-37.5 151.3,-33.8 153.2,-30 153.6,-28 153,-25 149,-21.5 146.3,-19 145.3,-15 143.5,-14 142.5,-10.8 141.6,-13 141,-17 139,-17.5 135.7,-15 136.5,-12 133,-11.3 130.5,-12.3 129.5,-15 127,-14 124.5,-16 122,-18 119,-20 116,-21 114,-21.8'],
['أستراليا','144.7,-40.7 148.3,-40.9 148,-43 146,-43.6 145.3,-42.5'],
['نيوزيلندا','172.7,-34.5 175.5,-36.5 178.5,-37.7 177,-39.5 175.3,-41.6 174.8,-39.7 174,-38.5'],
['نيوزيلندا','172.7,-40.5 174.3,-41.5 171,-45 169,-46.6 166.5,-46 168.5,-44 171,-42.5']
];

var lakeOutlines = [
    '-72,9.3 -71,9.3 -71.3,10.7 -72,10.7'
];

var mapColours = ['#AE2224','#AE2224','#DB2127','#E73C26','#EE6622','#F2801D','#F59E12','#FBBA04','#FFD500'];
var cellColours = ['#800F0F','#800F0F','#E11B25','#F04325','#F58220','#FAA21E','#FDB913','#FFD400','#FFF200'];
var scoreBreaks = [10,20,30,40,50,60,70,80];
var noDataColour = '#E1E3E5';
var blue = '#3D97D3';
var ink = '#231F20';

var mapColour = d3.scaleThreshold().domain( scoreBreaks ).range( mapColours );
var cellColour = d3.scaleThreshold().domain( scoreBreaks ).range( cellColours );

// a few countries are printed in their own shade on the map
var mapShades = { 'السودان': '#D60C12', 'جنوب السودان': '#A80F0D', 'مصر': '#E63713', 'النيجر': '#E63713' };

var svg = d3.select( '#chart' );

var columns = [
    { names: names1, scores: scores1 },
    { names: names2, scores: scores2 },
    { names: names3, scores: scores3 },
    { names: names4, scores: scores4 },
    { names: names5, scores: scores5 },
    { names: names6, scores: scores6 },
    { names: names7, scores: scores7 }
];

var scoreOf = {};
columns.concat( [ { names: mapOnlyNames, scores: mapOnlyScores } ] ).forEach( function ( col ) {
    col.names.forEach( function ( n, i ) { scoreOf[ n ] = col.scores[ i ]; } );
});


// ---- map, Winkel tripel ----

var winkelScale = 318, winkelX = 693, winkelY = 541;
var cosStd = 2 / Math.PI;

function winkel ( lon, lat ) {
    var l = lon * Math.PI / 180, p = lat * Math.PI / 180;
    var a = Math.acos( Math.cos( p ) * Math.cos( l / 2 ) );
    var sinc = a < 1e-6 ? 1 : Math.sin( a ) / a;
    var x = 0.5 * ( l * cosStd + 2 * Math.cos( p ) * Math.sin( l / 2 ) / sinc );
    var y = 0.5 * ( p + Math.sin( p ) / sinc );
    return [ winkelX + winkelScale * x, winkelY - winkelScale * y ];
}

var projection = d3.geoTransform({
    point: function ( lon, lat ) {
        var p = winkel( lon, lat );
        this.stream.point( p[0], p[1] );
    }
});
var geoPath = d3.geoPath( projection );

function ring ( text ) {
    var pts = text.split( ' ' ).map( function ( s ) { return s.split( ',' ).map( Number ); } );
    pts.push( pts[0] );
    return { type: 'Polygon', coordinates: [ pts ] };
}

function countryFill ( name ) {
    if ( mapShades[ name ] ) return mapShades[ name ];
    return scoreOf[ name ] === undefined ? noDataColour : mapColour( scoreOf[ name ] );
}

svg.append( 'g' ).selectAll( 'path' )
    .data( outlines )
    .enter().append( 'path' )
    .attr( 'd', function ( d ) { return geoPath( ring( d[1] ) ); } )
    .attr( 'fill', function ( d ) { return countryFill( d[0] ); } )
    .attr( 'stroke', '#fff' )
    .attr( 'stroke-width', 0.9 )
    .attr( 'stroke-linejoin', 'round' );

svg.append( 'g' ).selectAll( 'path' )
    .data( lakeOutlines )
    .enter().append( 'path' )
    .attr( 'd', function ( d ) { return geoPath( ring( d ) ); } )
    .attr( 'fill', '#fff' );


// ---- text helper, anchors the right edge ----

function rtl ( parent, x, y, str, size, weight, fill, wordGap ) {
    return parent.append( 'text' )
        .attr( 'x', x )
        .attr( 'y', y )
        .attr( 'direction', 'rtl' )
        .attr( 'text-anchor', 'start' )
        .attr( 'font-size', size )
        .attr( 'font-weight', weight )
        .attr( 'fill', fill || ink )
        .style( 'word-spacing', ( wordGap || 0 ) + 'px' )
        .text( str );
}


// ---- table ----

var table = svg.append( 'g' );
var columnX = d3.scaleLinear().domain( [0, 6] ).range( [1932, 321] );
var rowPitch = 26.6, doublePitch = 43.2, tableTop = 921;

columns.forEach( function ( col, c ) {

    var right = columnX( c );
    var heights = col.names.map( function ( n ) {
        return n.indexOf( '|' ) >= 0 ? doublePitch : rowPitch;
    });
    var tops = [ tableTop ].concat( Array.from( d3.cumsum( heights ), function ( h ) { return tableTop + h; } ) );

    col.names.forEach( function ( name, i ) {

        var top = tops[ i ], h = heights[ i ];

        table.append( 'line' )
            .attr( 'x1', right - 205 ).attr( 'x2', right )
            .attr( 'y1', top ).attr( 'y2', top )
            .attr( 'stroke', '#E6E7E8' ).attr( 'stroke-width', 1.6 );

        table.append( 'rect' )
            .attr( 'x', right - 45 ).attr( 'y', top + 0.8 )
            .attr( 'width', 45 ).attr( 'height', h - 1.6 )
            .attr( 'fill', cellColour( col.scores[ i ] ) );

        table.append( 'text' )
            .attr( 'x', right - 22.5 )
            .attr( 'y', top + ( h > rowPitch ? 23 : 19 ) )
            .attr( 'text-anchor', 'middle' )
            .attr( 'font-size', 16 )
            .style( 'font-family', '"Open Sans", sans-serif' )
            .attr( 'fill', col.scores[ i ] >= 60 ? ink : '#fff' )
            .text( col.scores[ i ] );

        name.split( '|' ).forEach( function ( line, k ) {
            rtl( table, right - 53, top + 19 + k * 18, line, 15, 400, '#3a3a3c', 3 );
        });
    });

    var last = tops[ tops.length - 1 ];
    table.append( 'line' )
        .attr( 'x1', right - 205 ).attr( 'x2', right )
        .attr( 'y1', last ).attr( 'y2', last )
        .attr( 'stroke', '#E6E7E8' ).attr( 'stroke-width', 1.6 );
});

rtl( svg, 1932, 900, 'الدرجة', 15, 700 );
rtl( svg, 1862, 900, 'الدولة/الإقليم', 16, 700 );


// ---- logo ----

var logo = svg.append( 'g' ).attr( 'transform', 'translate(1565,172)' );
logo.append( 'ellipse' ).attr( 'rx', 46 ).attr( 'ry', 46 ).attr( 'fill', blue );
logo.append( 'path' )
    .attr( 'd', 'M-38,-14 Q-28,-34 -12,-36 L-24,-14 Q-28,-18 -38,-14 Z M-36,0 L-24,4 L-14,34 Q-32,22 -36,0 Z M-2,14 L0,38 Q26,34 34,4 Q18,16 -2,14 Z M30,-26 Q40,-14 40,-8 Q24,-22 10,-38 Q22,-36 30,-26 Z' )
    .attr( 'fill', '#fff' );
logo.append( 'circle' ).attr( 'cx', -3 ).attr( 'cy', -20 ).attr( 'r', 10 ).attr( 'fill', '#fff' );
logo.append( 'circle' ).attr( 'cx', -3 ).attr( 'cy', -20 ).attr( 'r', 6 ).attr( 'fill', blue );

rtl( svg, 1928, 160, 'منظم' + 'ـ'.repeat( 13 ) + 'ة', 38, 700, blue );
rtl( svg, 1928, 207, 'الشفافية الدولية', 37, 700, blue );
rtl( svg, 1928, 240, 'الائتلاف العالمي ضد الفساد', 25, 400, blue, 6 );


// ---- title ----

var title = svg.append( 'g' );
rtl( title, 1928, 383, 'مــــؤشـــر', 82, 700 );
rtl( title, 1928, 477, 'مـــدركــات', 82, 700 );
rtl( title, 1928, 571, 'الفساد', 80, 700 );
title.append( 'text' )
    .attr( 'transform', 'translate(1499,571) scale(0.77,1)' )
    .attr( 'font-size', 88 ).attr( 'font-weight', 800 )
    .style( 'font-family', 'Roboto, sans-serif' )
    .attr( 'fill', '#ED1164' )
    .text( '2021' );

title.append( 'line' )
    .attr( 'x1', 1503 ).attr( 'x2', 2000 )
    .attr( 'y1', 616 ).attr( 'y2', 616 )
    .attr( 'stroke', ink ).attr( 'stroke-width', 8 );

rtl( title, 1928, 694, 'المستويات المدركة لفساد', 29.5, 700, ink, 11 );
rtl( title, 1928, 734, 'القطاع العام في 180 دولة/', 29.5, 700, ink, 0 );
rtl( title, 1928, 772, 'إقليماً في العالم', 29.5, 700, ink, 6 );


// ---- footer ----

var footer = svg.append( 'g' );
footer.append( 'text' )
    .attr( 'x', 70 ).attr( 'y', 1748 )
    .attr( 'font-size', 29 ).attr( 'font-weight', 700 )
    .attr( 'textLength', 108 ).attr( 'lengthAdjust', 'spacingAndGlyphs' )
    .style( 'font-family', '"Open Sans", sans-serif' )
    .attr( 'fill', blue )
    .text( '#cpi2021' );
footer.append( 'text' )
    .attr( 'x', 70 ).attr( 'y', 1788 )
    .attr( 'font-size', 30 ).attr( 'font-weight', 700 )
    .attr( 'textLength', 335 ).attr( 'lengthAdjust', 'spacingAndGlyphs' )
    .style( 'font-family', '"Open Sans", sans-serif' )
    .attr( 'fill', ink )
    .text( 'www.transparency.org/cpi' );

rtl( footer, 717, 1828, 'هذا العمل الصادر عن منظمة الشفافية الدولية سنة 2021 مرخص بموجب  CC BY-ND 4.0', 15.3, 400, '#333' );

['cc', 'i', '='].forEach( function ( s, i ) {
    var cx = 79 + i * 24;
    footer.append( 'circle' )
        .attr( 'cx', cx ).attr( 'cy', 1823 ).attr( 'r', 8.5 )
        .attr( 'fill', '#fff' ).attr( 'stroke', ink ).attr( 'stroke-width', 1.6 );
    footer.append( 'text' )
        .attr( 'x', cx ).attr( 'y', 1827 )
        .attr( 'text-anchor', 'middle' )
        .attr( 'font-size', 10 ).attr( 'font-weight', 700 )
        .style( 'font-family', '"Open Sans", sans-serif' )
        .attr( 'fill', ink )
        .text( s );
});


// ---- legend ----

var legend = svg.append( 'g' );
var defs = svg.append( 'defs' );
var gradientStops = [
    [0, '#FFF200'], [0.08, '#FFF200'], [0.17, '#FFD400'], [0.3, '#FDB913'], [0.4, '#FAA21E'],
    [0.55, '#F58220'], [0.62, '#F26A21'], [0.7, '#EF4023'], [0.78, '#E11B25'], [0.85, '#DE1F26'],
    [0.9, '#A8151B'], [0.95, '#800F0F'], [1, '#800F0F']
];
defs.append( 'linearGradient' ).attr( 'id', 'legendRamp' )
    .selectAll( 'stop' ).data( gradientStops )
    .enter().append( 'stop' )
    .attr( 'offset', function ( d ) { return d[0]; } )
    .attr( 'stop-color', function ( d ) { return d[1]; } );

legend.append( 'rect' )
    .attr( 'x', 1418 ).attr( 'y', 1776 ).attr( 'width', 468 ).attr( 'height', 25 )
    .attr( 'fill', 'url(#legendRamp)' );
legend.append( 'rect' )
    .attr( 'x', 1332 ).attr( 'y', 1776 ).attr( 'width', 36 ).attr( 'height', 25 )
    .attr( 'fill', noDataColour );

var tickX = d3.scalePoint().domain( legendLabels ).range( [1441, 1868] );
var rampColour = d3.scaleLinear()
    .domain( gradientStops.map( function ( s ) { return s[0]; } ) )
    .range( gradientStops.map( function ( s ) { return s[1]; } ) );
var triangle = d3.symbol().type( d3.symbolTriangle ).size( 34 );

legendLabels.forEach( function ( label ) {
    var x = tickX( label );
    legend.append( 'path' )
        .attr( 'd', triangle() )
        .attr( 'transform', 'translate(' + x + ',1803) rotate(180)' )
        .attr( 'fill', rampColour( ( x - 1418 ) / 468 ) );
    legend.append( 'text' )
        .attr( 'x', x ).attr( 'y', 1829 )
        .attr( 'text-anchor', 'middle' )
        .attr( 'font-size', 13 )
        .attr( 'textLength', label.length * 5 )
        .attr( 'lengthAdjust', 'spacingAndGlyphs' )
        .style( 'font-family', '"Liberation Sans", sans-serif' )
        .attr( 'fill', '#333' )
        .text( label );
});
legend.append( 'path' )
    .attr( 'd', triangle() )
    .attr( 'transform', 'translate(1350,1803) rotate(180)' )
    .attr( 'fill', noDataColour );

rtl( legend, 1885, 1761, 'الدرجة', 23, 700 );
rtl( legend, 1412, 1783, 'الأكثر', 14, 400, '#333' );
rtl( legend, 1412, 1800, 'نزاهة', 14, 400, '#333' );
rtl( legend, 1930, 1783, 'الأكثر', 14, 400, '#333' );
rtl( legend, 1930, 1800, 'فساداً', 14, 400, '#333' );
rtl( legend, 1390, 1830, 'لا توجد بيانات', 15, 400, '#333' );

</script>
</body>
</html>
